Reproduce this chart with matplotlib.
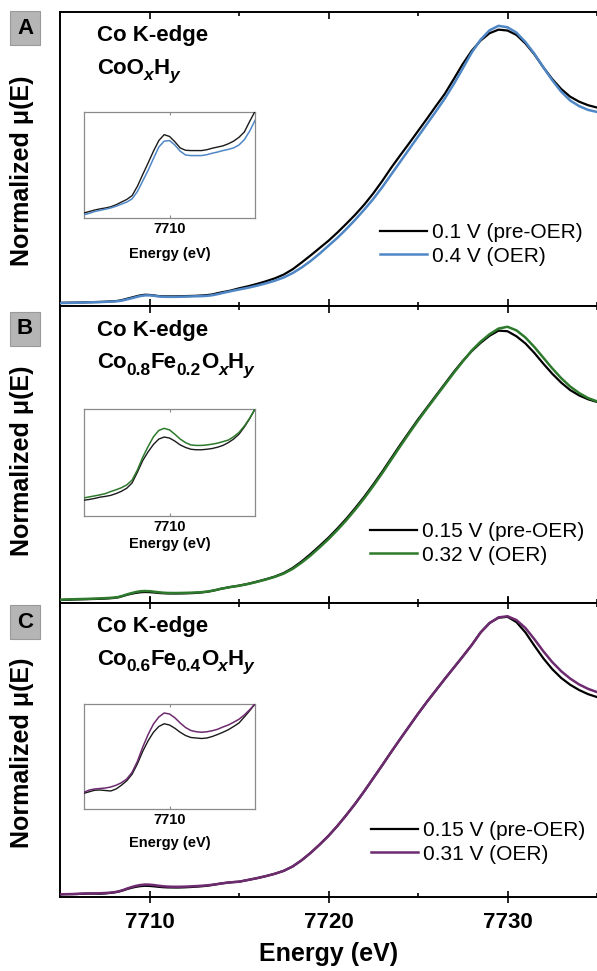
import numpy as np
import matplotlib
matplotlib.use("Agg")
import matplotlib.pyplot as plt
from matplotlib.ticker import MultipleLocator, FixedLocator

plt.rcParams['font.family'] = ['Liberation Sans', 'DejaVu Sans']

# Energy grid: fine steps across the pre-edge, coarser across the main edge
energy_pre = np.arange(7705.0, 7715.0, 0.25)
energy_edge = np.arange(7715.0, 7735.01, 0.5)
energy = np.concatenate([energy_pre, energy_edge])

# ---- Panel A: CoOxHy ----
a_pre_oer_pre = [0.0107, 0.0110, 0.0113, 0.0115, 0.0117, 0.0122, 0.0127, 0.0131, 0.0134, 0.0138,
                 0.0145, 0.0154, 0.0163, 0.0176, 0.0208, 0.0248, 0.0287, 0.0327, 0.0363, 0.0383,
                 0.0377, 0.0359, 0.0338, 0.0330, 0.0329, 0.0329, 0.0329, 0.0332, 0.0337, 0.0341,
                 0.0345, 0.0352, 0.0361, 0.0374, 0.0392, 0.0428, 0.0462, 0.0490, 0.0520, 0.0560]
a_pre_oer_edge = [0.060, 0.067, 0.075, 0.084, 0.094, 0.107, 0.125, 0.148, 0.172, 0.197,
                  0.222, 0.250, 0.280, 0.311, 0.345, 0.383, 0.425, 0.470, 0.512, 0.553,
                  0.595, 0.637, 0.680, 0.722, 0.772, 0.823, 0.868, 0.903, 0.928, 0.940,
                  0.937, 0.922, 0.893, 0.856, 0.812, 0.772, 0.738, 0.712, 0.695, 0.683, 0.675]
a_oer_pre = [0.0100, 0.0103, 0.0106, 0.0108, 0.0111, 0.0116, 0.0122, 0.0126, 0.0130, 0.0134,
             0.0140, 0.0147, 0.0154, 0.0165, 0.0190, 0.0226, 0.0262, 0.0302, 0.0341, 0.0361,
             0.0363, 0.0348, 0.0327, 0.0314, 0.0312, 0.0312, 0.0312, 0.0315, 0.0320, 0.0324,
             0.0329, 0.0333, 0.0338, 0.0348, 0.0366, 0.0395, 0.0431, 0.0465, 0.0497, 0.0530]
a_oer_edge = [0.056, 0.062, 0.069, 0.077, 0.086, 0.097, 0.112, 0.131, 0.153, 0.178,
              0.205, 0.232, 0.262, 0.294, 0.328, 0.364, 0.404, 0.447, 0.490, 0.533,
              0.576, 0.619, 0.662, 0.706, 0.755, 0.808, 0.862, 0.906, 0.938, 0.953,
              0.948, 0.930, 0.898, 0.858, 0.812, 0.768, 0.729, 0.699, 0.680, 0.667, 0.660]

# ---- Panel B: Co0.8Fe0.2OxHy ----
b_pre_oer_pre = [0.0102, 0.0106, 0.0110, 0.0117, 0.0122, 0.0125, 0.0129, 0.0134, 0.0137, 0.0141,
                 0.0148, 0.0157, 0.0169, 0.0190, 0.0232, 0.0278, 0.0312, 0.0341, 0.0362, 0.0370,
                 0.0366, 0.0354, 0.0339, 0.0329, 0.0322, 0.0320, 0.0320, 0.0322, 0.0325, 0.0330,
                 0.0337, 0.0348, 0.0362, 0.0381, 0.0409, 0.0442, 0.0480, 0.0508, 0.0537, 0.0560]
b_pre_oer_edge = [0.0585, 0.0645, 0.072, 0.080, 0.089, 0.101, 0.118, 0.140, 0.165, 0.192,
                  0.220, 0.251, 0.284, 0.320, 0.358, 0.399, 0.442, 0.487, 0.532, 0.575,
                  0.618, 0.658, 0.698, 0.738, 0.778, 0.815, 0.848, 0.876, 0.900, 0.917,
                  0.915, 0.898, 0.874, 0.842, 0.806, 0.772, 0.742, 0.717, 0.699, 0.686, 0.677]
b_oer_pre = [0.0110, 0.0117, 0.0122, 0.0127, 0.0131, 0.0135, 0.0139, 0.0143, 0.0148, 0.0156,
             0.0163, 0.0171, 0.0182, 0.0201, 0.0241, 0.0291, 0.0333, 0.0371, 0.0396, 0.0404,
             0.0398, 0.0381, 0.0362, 0.0348, 0.0339, 0.0337, 0.0337, 0.0339, 0.0342, 0.0346,
             0.0352, 0.0358, 0.0371, 0.0388, 0.0413, 0.0444, 0.0480, 0.0507, 0.0535, 0.0558]
b_oer_edge = [0.058, 0.064, 0.071, 0.079, 0.088, 0.099, 0.115, 0.136, 0.160, 0.187,
              0.215, 0.246, 0.279, 0.315, 0.353, 0.394, 0.437, 0.482, 0.527, 0.571,
              0.614, 0.655, 0.695, 0.735, 0.775, 0.813, 0.850, 0.880, 0.905, 0.924,
              0.930, 0.918, 0.894, 0.862, 0.826, 0.790, 0.757, 0.729, 0.707, 0.690, 0.679]

# ---- Panel C: Co0.6Fe0.4OxHy ----
c_pre_oer_pre = [0.0090, 0.0095, 0.0097, 0.0099, 0.0103, 0.0109, 0.0115, 0.0116, 0.0114, 0.0112,
                 0.0120, 0.0135, 0.0153, 0.0179, 0.0221, 0.0271, 0.0313, 0.0347, 0.0370, 0.0381,
                 0.0376, 0.0363, 0.0347, 0.0334, 0.0326, 0.0324, 0.0322, 0.0324, 0.0330, 0.0338,
                 0.0347, 0.0357, 0.0370, 0.0384, 0.0408, 0.0433, 0.0460, 0.0480, 0.0497, 0.0510]
c_pre_oer_edge = [0.052, 0.058, 0.064, 0.071, 0.079, 0.089, 0.104, 0.125, 0.150, 0.178,
                  0.208, 0.242, 0.279, 0.318, 0.360, 0.404, 0.448, 0.493, 0.537, 0.580,
                  0.623, 0.664, 0.703, 0.742, 0.780, 0.818, 0.857, 0.900, 0.932, 0.950,
                  0.953, 0.935, 0.900, 0.855, 0.812, 0.775, 0.745, 0.722, 0.704, 0.690, 0.680]
c_oer_pre = [0.0090, 0.0095, 0.0098, 0.0101, 0.0107, 0.0116, 0.0120, 0.0122, 0.0124, 0.0128,
             0.0135, 0.0145, 0.0160, 0.0187, 0.0231, 0.0288, 0.0338, 0.0380, 0.0408, 0.0424,
             0.0420, 0.0405, 0.0384, 0.0366, 0.0354, 0.0349, 0.0347, 0.0349, 0.0353, 0.0359,
             0.0368, 0.0376, 0.0387, 0.0399, 0.0416, 0.0437, 0.0460, 0.0480, 0.0497, 0.0510]
c_oer_edge = [0.052, 0.058, 0.064, 0.071, 0.079, 0.089, 0.104, 0.125, 0.150, 0.178,
              0.208, 0.242, 0.279, 0.318, 0.360, 0.404, 0.448, 0.493, 0.537, 0.580,
              0.623, 0.664, 0.703, 0.742, 0.780, 0.818, 0.857, 0.900, 0.932, 0.951,
              0.955, 0.942, 0.915, 0.877, 0.836, 0.799, 0.768, 0.743, 0.723, 0.708, 0.697]

panel_letters = ['A', 'B', 'C']
# formula pieces: (text, 'n' normal / 's' subscript / 'i' italic subscript)
formulas = [
    [('CoO', 'n'), ('x', 'i'), ('H', 'n'), ('y', 'i')],
    [('Co', 'n'), ('0.8', 's'), ('Fe', 'n'), ('0.2', 's'), ('O', 'n'), ('x', 'i'), ('H', 'n'), ('y', 'i')],
    [('Co', 'n'), ('0.6', 's'), ('Fe', 'n'), ('0.4', 's'), ('O', 'n'), ('x', 'i'), ('H', 'n'), ('y', 'i')],
]
pre_labels = ['0.1 V (pre-OER)', '0.15 V (pre-OER)', '0.15 V (pre-OER)']
oer_labels = ['0.4 V (OER)', '0.32 V (OER)', '0.31 V (OER)']
oer_colors = ['#4f87c6', '#2e7a2c', '#6e2b70']
pre_series = [a_pre_oer_pre + a_pre_oer_edge, b_pre_oer_pre + b_pre_oer_edge, c_pre_oer_pre + c_pre_oer_edge]
oer_series = [a_oer_pre + a_oer_edge, b_oer_pre + b_oer_edge, c_oer_pre + c_oer_edge]
inset_ylims = [(0.010, 0.046), (0.006, 0.048), (0.004, 0.046)]

W, H = 597, 971
fig = plt.figure(figsize=(W / 100, H / 100), dpi=100)

# pixel geometry of each panel (top, bottom) and its inset (top, bottom)
panel_px = [(12, 306), (306, 603), (603, 897)]
inset_px = [(112, 218), (409, 516), (704, 809)]
inset_label_off = [36, 28, 34]
badge_y = [28, 329, 622]
ylabel_y = [0.46, 0.48, 0.49]
legend_anchor = [(380, 244.5), (370, 543.5), (371, 842.5)]

x_left, x_right = 60, 597


def draw_formula(ax, x, y, pieces, size=16, sub_size=12.5, sub_drop=4.5):
    """Write a chemical formula piece by piece so subscripts keep a readable size."""
    prev = None
    for txt, kind in pieces:
        sub = kind in ('s', 'i')
        kw = dict(fontsize=sub_size if sub else size, fontweight='bold',
                  fontstyle='italic' if kind == 'i' else 'normal',
                  va='baseline', ha='left')
        if prev is None:
            prev = ax.text(x, y, txt, transform=ax.transAxes, **kw)
        else:
            prev = ax.annotate(txt, xy=(1, y), xycoords=(prev, ax.transAxes),
                               xytext=(0, -sub_drop if sub else 0), textcoords='offset points',
                               **kw)


for i in range(3):
    top, bot = panel_px[i]
    ax = fig.add_axes([x_left / W, 1 - bot / H, (x_right - x_left) / W, (bot - top) / H])
    ax.plot(energy, pre_series[i], color='black', lw=1.6, label=pre_labels[i], zorder=3)
    ax.plot(energy, oer_series[i], color=oer_colors[i], lw=1.8, label=oer_labels[i], zorder=4)
    ax.set_xlim(7705, 7735)
    ax.set_ylim(0, 1)
    ax.set_yticks([])
    ax.spines['right'].set_visible(False)
    for s in ['left', 'top', 'bottom']:
        ax.spines[s].set_linewidth(1.4)
    ax.xaxis.set_major_locator(MultipleLocator(10))
    ax.xaxis.set_minor_locator(MultipleLocator(5))
    if i == 2:
        ax.tick_params(axis='x', which='major', direction='inout', length=8, width=1.2,
                       top=True, bottom=True, labelsize=16, pad=7)
        ax.tick_params(axis='x', which='minor', direction='in', length=3, width=1.2,
                       top=True, bottom=True)
        for lab in ax.get_xticklabels():
            lab.set_fontweight('bold')
        ax.set_xlabel('Energy (eV)', fontsize=18, fontweight='bold')
        ax.xaxis.set_label_coords(0.5, -(954 - bot) / (bot - top))
        ax.xaxis.label.set_va('center')
    else:
        ax.tick_params(axis='x', which='major', direction='in', length=5, width=1.2,
                       top=True, bottom=True, labelbottom=False)
        ax.tick_params(axis='x', which='minor', direction='in', length=3, width=1.2,
                       top=True, bottom=True)

    ax.set_ylabel('Normalized \u03bc(E)', fontsize=18, fontweight='bold')
    ax.yaxis.set_label_coords(-(x_left - 22) / (x_right - x_left), ylabel_y[i])
    ax.yaxis.label.set_va('center')

    ax.text(0.069, 0.90, 'Co K-edge', transform=ax.transAxes, fontsize=16,
            fontweight='bold', va='baseline', ha='left')
    draw_formula(ax, 0.069, 0.79, formulas[i])

    lx, ly = legend_anchor[i]
    ax.legend(loc='center left', bbox_to_anchor=((lx - x_left) / (x_right - x_left), (bot - ly) / (bot - top)),
              frameon=False, fontsize=15, handlelength=2.25, handletextpad=0.25,
              labelspacing=0.2, borderpad=0, borderaxespad=0)

    # panel badge
    fig.text(25 / W, 1 - badge_y[i] / H, panel_letters[i], fontsize=16, fontweight='bold',
             ha='center', va='center',
             bbox=dict(boxstyle='square,pad=0.3', facecolor='#b5b5b5', edgecolor='#9a9a9a', lw=0.8))

    # inset: zoom on the pre-edge region
    itop, ibot = inset_px[i]
    axin = fig.add_axes([84 / W, 1 - ibot / H, (255 - 84) / W, (ibot - itop) / H])
    axin.plot(energy, pre_series[i], color='#1a1a1a', lw=1.0, zorder=3)
    axin.plot(energy, oer_series[i], color=oer_colors[i], lw=1.1, zorder=4)
    axin.set_xlim(7706, 7714)
    axin.set_ylim(*inset_ylims[i])
    axin.set_yticks([])
    axin.xaxis.set_major_locator(FixedLocator([7710]))
    axin.tick_params(axis='x', direction='in', length=2, width=0.8, color='#8a8a8a',
                     top=True, bottom=True, labelsize=10.5, pad=3)
    for lab in axin.get_xticklabels():
        lab.set_fontweight('bold')
    for s in axin.spines.values():
        s.set_color('#8a8a8a')
        s.set_linewidth(0.9)
    axin.set_xlabel('Energy (eV)', fontsize=10.5, fontweight='bold')
    axin.xaxis.set_label_coords(0.5, -inset_label_off[i] / (ibot - itop))
    axin.xaxis.label.set_va('center')

fig.savefig('out.png', dpi=100)
